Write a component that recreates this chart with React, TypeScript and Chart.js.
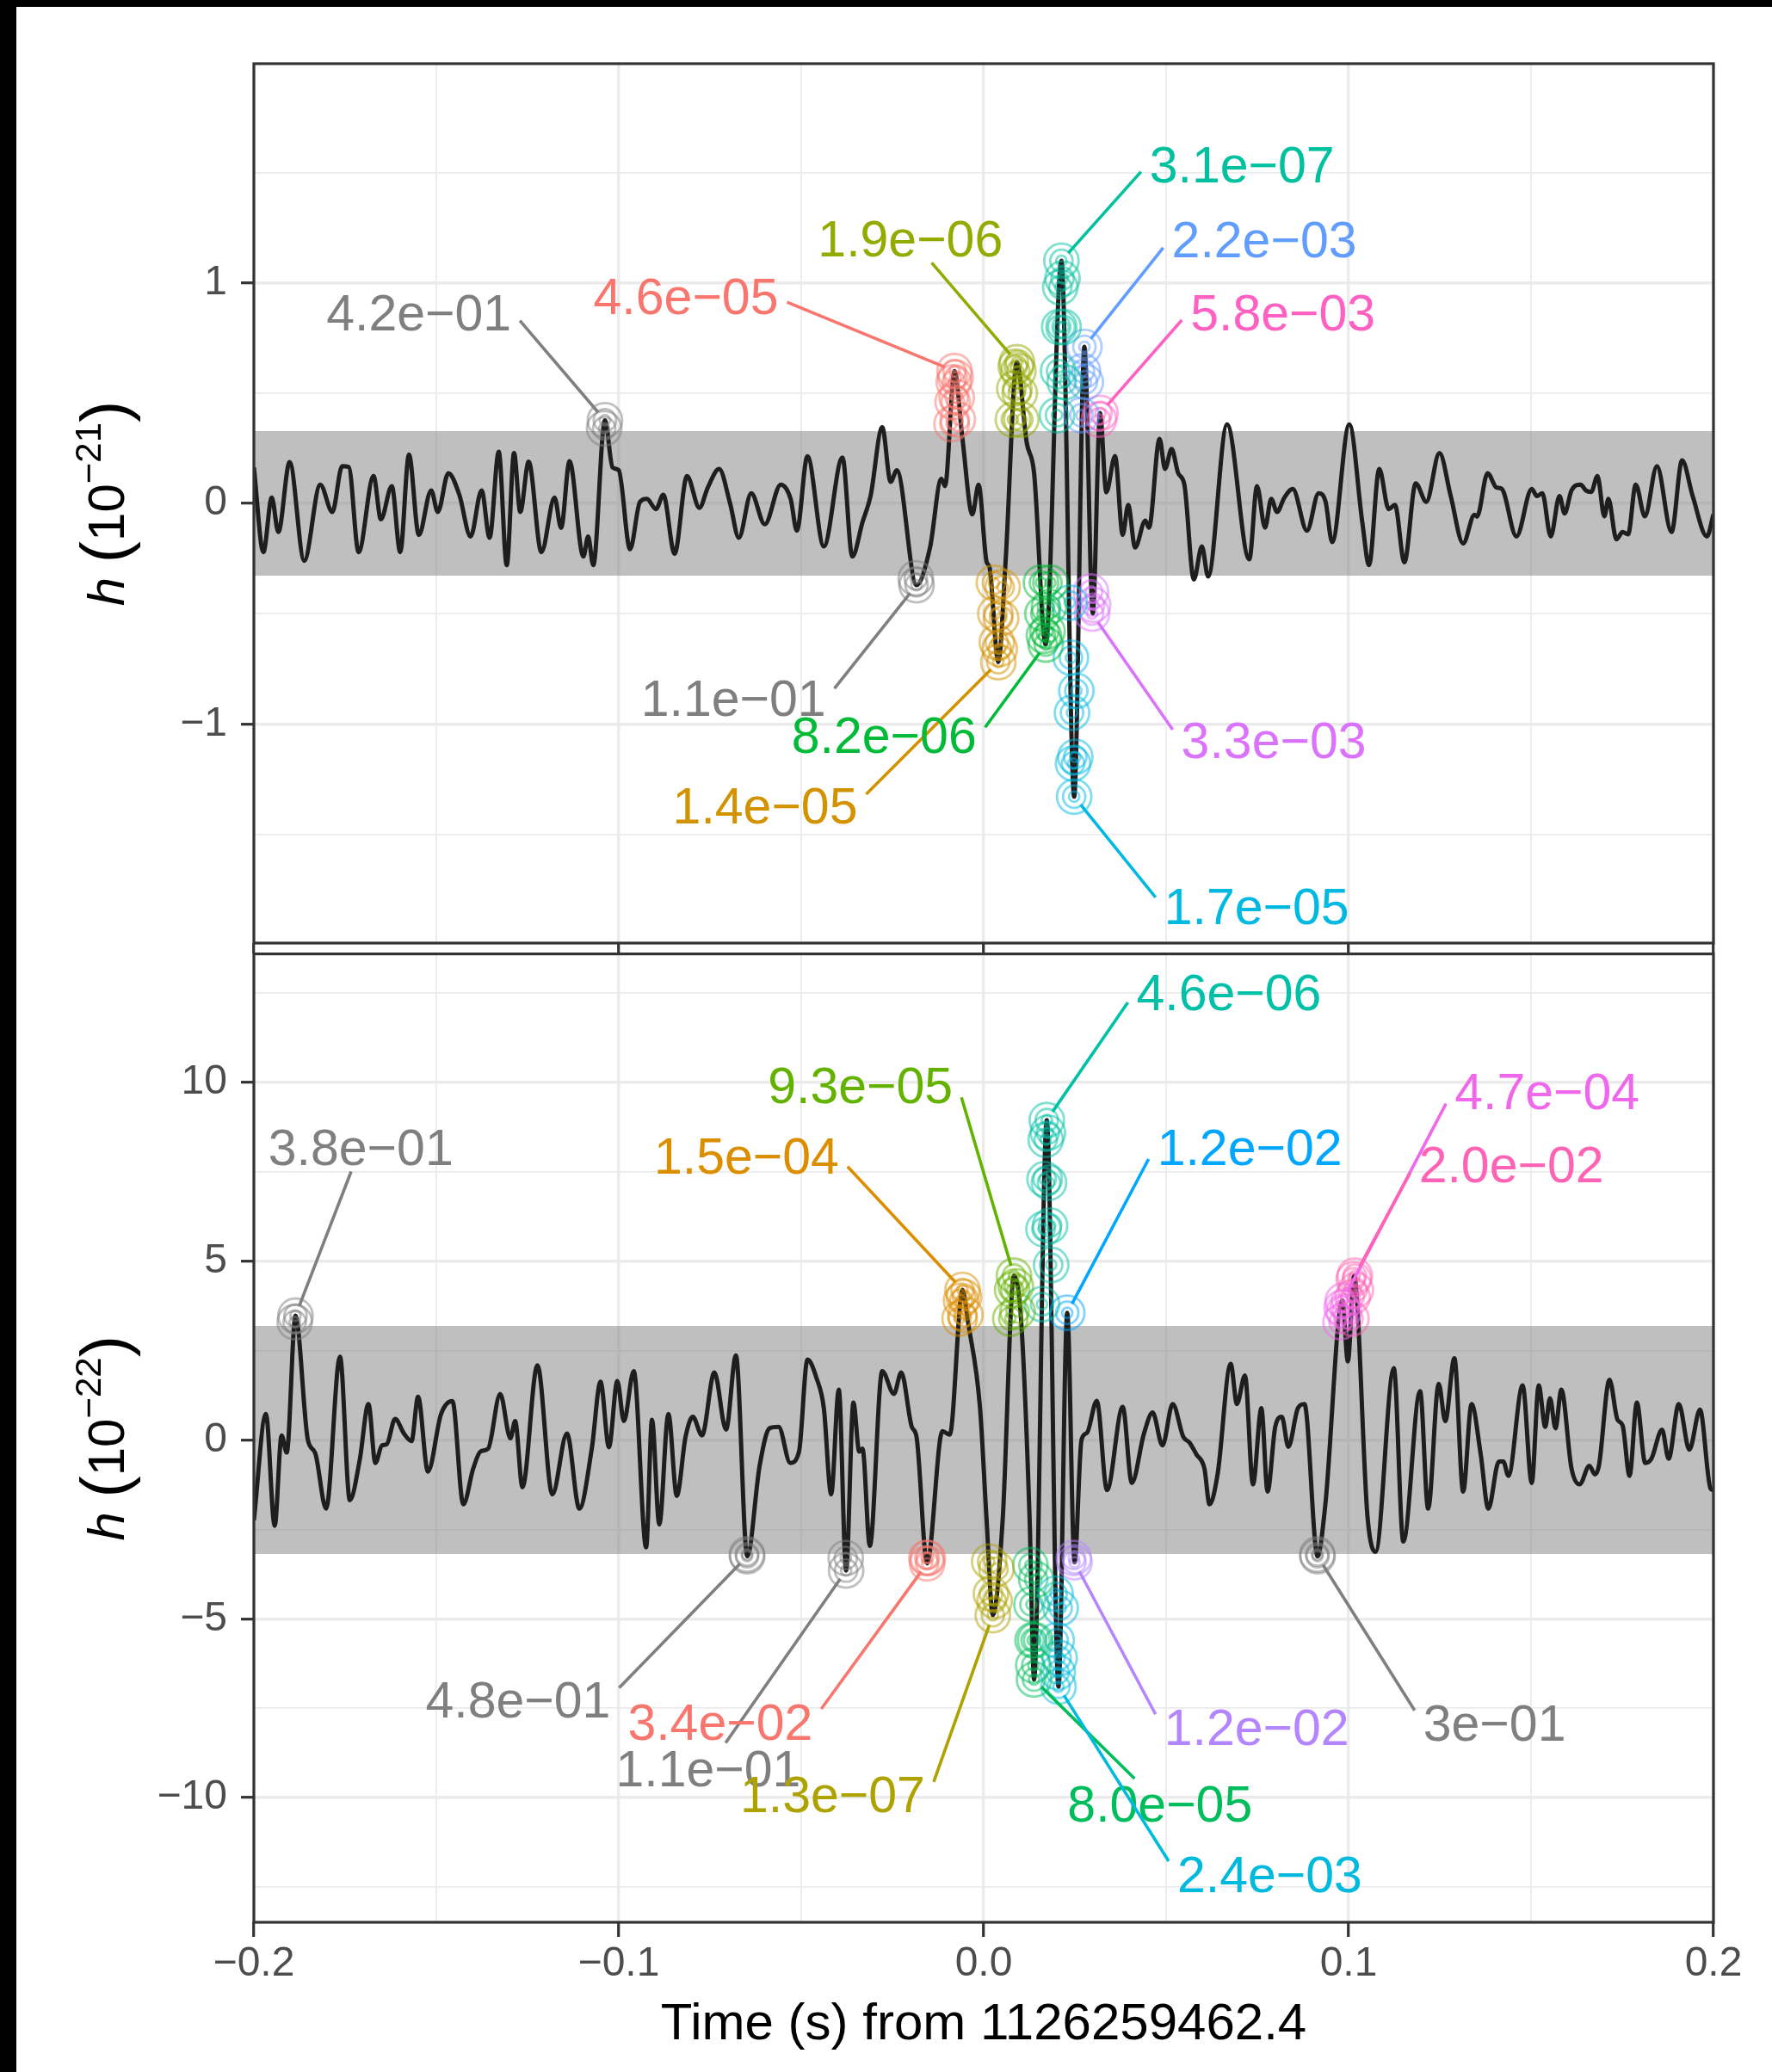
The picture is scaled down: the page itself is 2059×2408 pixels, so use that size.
import React, { useEffect, useRef } from "react";
import { Chart, registerables } from "chart.js";

Chart.register(...registerables);

const FONT = '"Liberation Sans", Arial, Helvetica, sans-serif';

// ---------------- axes ----------------
const xTickValues = [-0.2, -0.15, -0.1, -0.05, 0, 0.05, 0.1, 0.15, 0.2];
const xTickLabels = ["−0.2", "", "−0.1", "", "0.0", "", "0.1", "", "0.2"];
const topYTickValues = [-1.5, -1, -0.5, 0, 0.5, 1, 1.5];
const topYTickLabels = ["", "−1", "", "0", "", "1", ""];
const bottomYTickValues = [-12.5, -10, -7.5, -5, -2.5, 0, 2.5, 5, 7.5, 10, 12.5];
const bottomYTickLabels = ["", "−10", "", "−5", "", "0", "", "5", "", "10", ""];
const xAxisTitle = "Time (s) from 1126259462.4";

// ---------------- top panel (10^-21) ----------------
const topTime = [
  -0.2, -0.1974, -0.1951, -0.1933, -0.1902, -0.1862, -0.1818, -0.1785, -0.1758, -0.174,
  -0.1713, -0.1672, -0.1652, -0.1622, -0.1599, -0.1575, -0.1548, -0.1514, -0.1496, -0.1467,
  -0.1437, -0.1406, -0.1376, -0.1354, -0.1329, -0.1307, -0.1287, -0.127, -0.1247, -0.1212,
  -0.1176, -0.1158, -0.1135, -0.1097, -0.1084, -0.107, -0.1038, -0.1017, -0.1, -0.0969,
  -0.0942, -0.0923, -0.0898, -0.0878, -0.0847, -0.0813, -0.0779, -0.0756, -0.0725, -0.0695,
  -0.0671, -0.0637, -0.06, -0.0556, -0.0529, -0.0512, -0.0483, -0.0438, -0.0387, -0.036,
  -0.0332, -0.031, -0.0278, -0.0255, -0.0238, -0.0184, -0.0147, -0.0116, -0.0106, -0.008,
  -0.0058, -0.0031, -0.0014, 0.0008, 0.0016, 0.004, 0.006, 0.0091, 0.0118, 0.0138,
  0.017, 0.0213, 0.0248, 0.0276, 0.0299, 0.0319, 0.0336, 0.036, 0.0381, 0.0396,
  0.0415, 0.0443, 0.0453, 0.0482, 0.0497, 0.0515, 0.0533, 0.055, 0.0576, 0.0598,
  0.0615, 0.0667, 0.0728, 0.0749, 0.0771, 0.0788, 0.0804, 0.0824, 0.0847, 0.0886,
  0.0918, 0.0937, 0.0955, 0.1002, 0.1038, 0.1056, 0.1084, 0.111, 0.1127, 0.1153,
  0.1184, 0.1213, 0.1249, 0.128, 0.1314, 0.1345, 0.1352, 0.1381, 0.1405, 0.142,
  0.146, 0.1502, 0.1516, 0.1531, 0.1554, 0.1578, 0.1592, 0.1611, 0.1636, 0.165,
  0.1665, 0.1682, 0.1701, 0.1712, 0.1734, 0.1751, 0.1766, 0.1787, 0.1812, 0.1845,
  0.1885, 0.1914, 0.1943, 0.1982, 0.2,
];
const topStrain = [
  0.163, -0.221, 0.026, -0.13, 0.187, -0.26, 0.085, -0.039, 0.169, 0.165,
  -0.221, 0.124, -0.072, 0.078, -0.221, 0.221, -0.143, 0.059, -0.039, 0.137,
  0.039, -0.15, 0.059, -0.156, 0.234, -0.28, 0.228, -0.039, 0.189, -0.221,
  0.026, -0.111, 0.191, -0.241, -0.15, -0.28, 0.377, 0.163, 0.15, -0.208,
  0.007, 0.02, -0.026, 0.039, -0.228, 0.124, -0.02, 0.072, 0.156, 0.0,
  -0.156, 0.046, -0.095, 0.085, 0.02, -0.124, 0.214, -0.195, 0.208, -0.241,
  -0.085, 0.033, 0.345, 0.098, 0.15, -0.371, -0.2, 0.111, 0.078, 0.6,
  0.29, -0.05, 0.085, -0.265, -0.29, -0.72, -0.265, 0.64, 0.275, 0.14,
  -0.64, 1.1, -1.33, 0.71, -0.5, 0.41, 0.05, 0.215, -0.143, -0.007,
  -0.2, -0.078, -0.11, 0.293, 0.156, 0.247, 0.137, 0.085, -0.345, -0.195,
  -0.332, 0.358, -0.254, 0.078, -0.11, 0.02, -0.039, 0.026, 0.065, -0.124,
  0.046, 0.007, -0.176, 0.358, -0.091, -0.28, 0.156, -0.026, -0.007, -0.267,
  0.091, 0.007, 0.228, 0.033, -0.182, -0.052, -0.06, 0.137, 0.072, 0.065,
  -0.15, 0.065, 0.033, 0.046, -0.15, 0.033, -0.046, 0.059, 0.085, 0.059,
  0.052, 0.124, -0.059, 0.02, -0.163, -0.13, -0.14, 0.085, -0.059, 0.169,
  -0.13, 0.195, 0.033, -0.15, -0.05,
];
const topBand = 0.328;

const topMarkerLabels = ["4.2e−01", "4.6e−05", "1.1e−01", "1.4e−05", "1.9e−06", "8.2e−06", "3.1e−07", "1.7e−05", "2.2e−03", "3.3e−03", "5.8e−03"];
const topMarkerColors = ["#7F7F7F", "#F8766D", "#7F7F7F", "#D39200", "#93AA00", "#00BA38", "#00C19F", "#00B9E3", "#619CFF", "#DB72FB", "#FF61C3"];
const topMarkerTimes = [
  [-0.104, -0.1038],
  [-0.0088, -0.0085, -0.0082, -0.008, -0.0077, -0.0074, -0.0071],
  [-0.0186, -0.0184],
  [0.0028, 0.0032, 0.0036, 0.004, 0.0044, 0.0048, 0.0052],
  [0.008, 0.0084, 0.0088, 0.0091, 0.0095, 0.0099, 0.0103],
  [0.0157, 0.0161, 0.0165, 0.017, 0.0175, 0.0179, 0.0183],
  [0.0201, 0.0204, 0.0207, 0.021, 0.0213, 0.0216, 0.0219, 0.0222],
  [0.0236, 0.0239, 0.0242, 0.0245, 0.0248, 0.0251, 0.0254],
  [0.0268, 0.0272, 0.0276, 0.028],
  [0.0294, 0.0297, 0.03],
  [0.0316, 0.032],
];
const topMarkerStrains = [
  [0.34, 0.377],
  [0.36, 0.46, 0.55, 0.6, 0.57, 0.48, 0.38],
  [-0.34, -0.371],
  [-0.36, -0.5, -0.63, -0.72, -0.66, -0.52, -0.38],
  [0.38, 0.52, 0.62, 0.64, 0.6, 0.5, 0.38],
  [-0.36, -0.5, -0.6, -0.64, -0.58, -0.47, -0.36],
  [0.4, 0.6, 0.8, 0.98, 1.1, 1.02, 0.8, 0.55],
  [-0.45, -0.7, -0.95, -1.18, -1.33, -1.15, -0.85],
  [0.4, 0.6, 0.71, 0.55],
  [-0.4, -0.5, -0.46],
  [0.38, 0.41],
];
const topLabelTimes = [-0.1548, -0.0816, -0.0686, -0.0599, -0.0201, -0.0273, 0.0708, 0.0748, 0.0769, 0.0795, 0.082];
const topLabelStrains = [0.868, 0.94, -0.88, -1.371, 1.204, -1.048, 1.539, -1.826, 1.198, -1.072, 0.868];

// ---------------- bottom panel (10^-22) ----------------
const bottomTime = [
  -0.2, -0.1967, -0.1943, -0.1924, -0.191, -0.1886, -0.1852, -0.1832, -0.1802, -0.1764,
  -0.1737, -0.171, -0.1686, -0.1667, -0.1649, -0.1636, -0.1613, -0.1588, -0.1568, -0.155,
  -0.1523, -0.1487, -0.1456, -0.1426, -0.1399, -0.1379, -0.1358, -0.1325, -0.1297, -0.1284,
  -0.1264, -0.1223, -0.1182, -0.1142, -0.1108, -0.1074, -0.105, -0.1027, -0.1004, -0.0986,
  -0.0959, -0.0925, -0.0909, -0.0889, -0.0864, -0.0841, -0.0817, -0.0797, -0.0772, -0.0738,
  -0.0706, -0.0679, -0.0648, -0.0614, -0.0587, -0.0562, -0.053, -0.0506, -0.0483, -0.0458,
  -0.0438, -0.0418, -0.0397, -0.0377, -0.0357, -0.0341, -0.0332, -0.0312, -0.0278, -0.0246,
  -0.0226, -0.0197, -0.0184, -0.0155, -0.0113, -0.0093, -0.0058, -0.0043, -0.001, 0.0008,
  0.0025, 0.0052, 0.0083, 0.0103, 0.0126, 0.0138, 0.0173, 0.0205, 0.0229, 0.0249,
  0.0268, 0.0283, 0.031, 0.0338, 0.0381, 0.0406, 0.0439, 0.0463, 0.049, 0.0518,
  0.0547, 0.0564, 0.0583, 0.0605, 0.0619, 0.0641, 0.0677, 0.0694, 0.0716, 0.0738,
  0.0761, 0.0778, 0.0799, 0.0817, 0.0835, 0.0861, 0.0879, 0.0915, 0.0936, 0.0983,
  0.0998, 0.1015, 0.1052, 0.1074, 0.1124, 0.115, 0.1196, 0.1218, 0.1247, 0.1265,
  0.129, 0.1314, 0.1337, 0.1362, 0.1383, 0.1412, 0.1424, 0.1438, 0.1477, 0.1502,
  0.1521, 0.1539, 0.1552, 0.1567, 0.1583, 0.1611, 0.1633, 0.166, 0.1675, 0.1686,
  0.1715, 0.1737, 0.1751, 0.177, 0.179, 0.1813, 0.183, 0.1859, 0.1877, 0.1905,
  0.1934, 0.1963, 0.1992, 0.2,
];
const bottomStrain = [
  -2.24, 0.73, -2.4, 0.13, -0.35, 3.48, 0.0, -0.36, -1.92, 2.33,
  -1.68, -0.56, 1.01, -0.64, -0.15, -0.12, 0.59, 0.17, -0.03, 1.21,
  -0.88, 0.73, 1.09, -1.8, -0.8, -0.32, -0.24, 1.29, 0.05, 0.53,
  -1.32, 2.09, -1.52, 0.18, -1.92, -0.24, 1.63, -0.2, 1.65, 0.53,
  1.93, -3.0, 0.57, -2.36, 0.73, -1.56, 0.09, 0.65, 0.13, 1.89,
  0.29, 2.37, -3.25, -0.72, 0.33, 0.37, -0.64, -0.32, 2.25, 1.73,
  0.89, -1.52, 1.41, -3.65, 1.05, -0.32, -0.24, -2.96, 1.93, 1.29,
  1.89, 0.37, 0.09, -3.45, 0.25, 0.15, 4.2, 3.3, 0.9, -2.24,
  -4.9, -2.24, 4.6, 3.29, -2.24, -6.7, 8.95, -6.9, 3.56, -3.42,
  0.0, 0.2, 1.1, -1.4, 0.93, -1.2, 0.17, 0.77, -0.15, 1.01,
  0.09, -0.07, -0.4, -0.8, -1.8, -0.96, 2.13, 1.01, 1.81, -1.24,
  0.89, -1.44, 0.37, 0.65, -0.19, 0.89, 1.01, -3.25, -1.84, 3.9,
  2.2, 4.6, -2.16, -3.13, 2.01, -2.84, 1.37, -1.92, 1.57, 0.53,
  2.29, -1.44, 1.01, -0.39, -1.92, -0.6, -0.6, -1.0, 1.53, -1.2,
  1.53, 0.37, 1.17, 0.33, 1.41, -0.8, -1.24, -0.72, -0.96, -0.72,
  1.69, 0.57, 0.41, -1.0, 1.05, -0.64, -0.52, 0.29, -0.52, 1.01,
  -0.27, 0.85, -1.36, -1.4,
];
const bottomBand = 3.19;

const bottomMarkerLabels = ["3.8e−01", "4.8e−01", "1.1e−01", "3.4e−02", "1.5e−04", "1.3e−07", "9.3e−05", "8.0e−05", "4.6e−06", "2.4e−03", "1.2e−02", "1.2e−02", "3e−01", "4.7e−04", "2.0e−02"];
const bottomMarkerColors = ["#7F7F7F", "#7F7F7F", "#7F7F7F", "#F8766D", "#DB8E00", "#AEA200", "#64B200", "#00BD5C", "#00C1A7", "#00BADE", "#00A6FF", "#B385FF", "#7F7F7F", "#EF67EB", "#FF63B6"];
const bottomMarkerTimes = [
  [-0.1888, -0.1886],
  [-0.0649, -0.0648],
  [-0.0378, -0.0377],
  [-0.0157, -0.0155, -0.0153],
  [-0.0066, -0.0062, -0.0058, -0.0054, -0.005],
  [0.0015, 0.002, 0.0025, 0.003, 0.0035],
  [0.0073, 0.0078, 0.0083, 0.0088, 0.0093],
  [0.0128, 0.0131, 0.0134, 0.0136, 0.0138, 0.0141, 0.0144],
  [0.016, 0.0164, 0.0167, 0.017, 0.0173, 0.0176, 0.0179, 0.0182, 0.0185],
  [0.0197, 0.02, 0.0203, 0.0205, 0.0208, 0.0211],
  [0.0229],
  [0.0247, 0.0249],
  [0.0914, 0.0915],
  [0.0978, 0.0981, 0.0984, 0.0987],
  [0.1008, 0.1011, 0.1014, 0.1017, 0.102],
];
const bottomMarkerStrains = [
  [3.3, 3.48],
  [-3.2, -3.25],
  [-3.3, -3.65],
  [-3.3, -3.45, -3.3],
  [3.4, 3.9, 4.2, 4.0, 3.5],
  [-3.4, -4.3, -4.9, -4.5, -3.6],
  [3.4, 4.2, 4.6, 4.3, 3.6],
  [-3.5, -4.6, -5.6, -6.3, -6.7, -5.6, -3.9],
  [3.8, 5.9, 7.3, 8.4, 8.95, 8.6, 7.2, 6.0, 4.9],
  [-4.3, -5.6, -6.5, -6.9, -6.1, -4.7],
  [3.56],
  [-3.3, -3.42],
  [-3.2, -3.25],
  [3.3, 3.7, 3.9, 3.6],
  [3.4, 4.0, 4.5, 4.6, 4.2],
];
const bottomLabelTimes = [-0.1707, -0.1276, -0.0755, -0.0722, -0.065, -0.0414, -0.0338, 0.0483, 0.0672, 0.0784, 0.0729, 0.0748, 0.14, 0.1544, 0.1446];
const bottomLabelStrains = [8.21, -7.25, -9.17, -7.87, 7.95, -9.91, 9.94, -10.17, 12.53, -12.13, 8.21, -8.02, -7.91, 9.76, 7.73];

// ---------------- styling ----------------
const RING_RADII = [6, 13, 20];
const LABEL_SIZE = 59;
const TICK_SIZE = 48;
const TITLE_SIZE = 60;

function rgba(hex: string, a: number) {
  const n = parseInt(hex.slice(1), 16);
  return `rgba(${(n >> 16) & 255},${(n >> 8) & 255},${n & 255},${a})`;
}

function labelFor(values: number[], labels: string[], v: number) {
  const i = values.findIndex((u) => Math.abs(u - v) < 1e-9);
  return i >= 0 ? labels[i] : "";
}

function drawYTitle(ctx: CanvasRenderingContext2D, x: number, midY: number, exp: string) {
  const parts = [
    { t: "h", f: `italic ${TITLE_SIZE}px ${FONT}`, dy: 0 },
    { t: " ", f: `${TITLE_SIZE}px ${FONT}`, dy: 0 },
    { t: "(", f: `76px ${FONT}`, dy: 3 },
    { t: "10", f: `${TITLE_SIZE}px ${FONT}`, dy: 0 },
    { t: exp, f: `42px ${FONT}`, dy: -27 },
    { t: ")", f: `76px ${FONT}`, dy: 3 },
  ];
  ctx.save();
  ctx.translate(x, midY);
  ctx.rotate(-Math.PI / 2);
  ctx.fillStyle = "#000";
  ctx.textAlign = "left";
  ctx.textBaseline = "alphabetic";
  const widths = parts.map((p) => {
    ctx.font = p.f;
    return ctx.measureText(p.t).width;
  });
  const total = widths.reduce((a, b) => a + b, 0);
  let u = -total / 2;
  parts.forEach((p, i) => {
    ctx.font = p.f;
    ctx.fillText(p.t, u, 21 + p.dy);
    u += widths[i];
  });
  ctx.restore();
}

type Spec = {
  name: string;
  time: number[];
  strain: number[];
  band: number;
  yMin: number;
  yMax: number;
  yTicks: number[];
  yTickLabels: string[];
  yMajorStep: number;
  markerLabels: string[];
  markerColors: string[];
  markerTimes: number[][];
  markerStrains: number[][];
  labelTimes: number[];
  labelStrains: number[];
  padTop: number;
  xAxisHeight: number;
  xTickLength: number;
  showXLabels: boolean;
  exponent: string;
  xTitleY: number | null;
};

function overlay(spec: Spec) {
  return {
    id: "overlay_" + spec.name,
    afterDatasetsDraw(chart: any) {
      const { ctx } = chart;
      const xs = chart.scales.x;
      const ys = chart.scales.y;
      ctx.save();
      ctx.font = `${LABEL_SIZE}px ${FONT}`;
      spec.markerLabels.forEach((text, k) => {
        const color = spec.markerColors[k];
        const cx = xs.getPixelForValue(spec.labelTimes[k]);
        const cy = ys.getPixelForValue(spec.labelStrains[k]);
        const w = ctx.measureText(text).width;
        const hw0 = w / 2, hh0 = 22;
        const hw = hw0 + 10;
        const hh = 29;
        let px = 0, py = 0, best = Infinity;
        spec.markerTimes[k].forEach((t, j) => {
          const mx = xs.getPixelForValue(t);
          const my = ys.getPixelForValue(spec.markerStrains[k][j]);
          const d = Math.hypot(mx - cx, my - cy);
          if (d < best) { best = d; px = mx; py = my; }
        });
        const dx = px - cx, dy = py - cy;
        const ex = Math.abs(dx) - hw0, ey = Math.abs(dy) - hh0;
        let sx: number, sy: number;
        if (ex > 0 && ey < 3.0 * ex) {
          sx = cx + Math.sign(dx) * hw;
          sy = cy + Math.sign(dy) * Math.min(Math.abs(dy) * 0.08, hh * 0.5);
        } else {
          sy = cy + Math.sign(dy) * hh;
          sx = cx + Math.max(-hw, Math.min(hw, (dx * hh) / Math.max(Math.abs(dy), 1)));
        }
        const L = Math.hypot(px - sx, py - sy) || 1;
        const endX = px - ((px - sx) / L) * 12;
        const endY = py - ((py - sy) / L) * 12;
        ctx.strokeStyle = color;
        ctx.lineWidth = 3.6;
        ctx.lineCap = "butt";
        ctx.beginPath();
        ctx.moveTo(sx, sy);
        ctx.lineTo(endX, endY);
        ctx.stroke();
        ctx.fillStyle = color;
        ctx.textAlign = "center";
        ctx.textBaseline = "alphabetic";
        ctx.fillText(text, cx, cy + 0.358 * LABEL_SIZE);
      });
      ctx.restore();
    },
    afterDraw(chart: any) {
      const { ctx, chartArea: a } = chart;
      ctx.save();
      ctx.strokeStyle = "#333333";
      ctx.lineWidth = 3.2;
      ctx.strokeRect(a.left, a.top, a.right - a.left, a.bottom - a.top);
      ctx.restore();
      drawYTitle(ctx, 104, (a.top + a.bottom) / 2, spec.exponent);
      if (spec.xTitleY !== null) {
        ctx.save();
        ctx.font = `${TITLE_SIZE}px ${FONT}`;
        ctx.fillStyle = "#000";
        ctx.textAlign = "center";
        ctx.textBaseline = "alphabetic";
        ctx.fillText(xAxisTitle, (a.left + a.right) / 2, spec.xTitleY + 0.358 * TITLE_SIZE);
        ctx.restore();
      }
    },
  };
}

function buildConfig(spec: Spec): any {
  const signal = spec.time.map((t, i) => ({ x: t, y: spec.strain[i] }));
  const datasets: any[] = [
    {
      data: [{ x: -0.2, y: spec.band }, { x: 0.2, y: spec.band }],
      borderColor: "rgba(0,0,0,0)",
      borderWidth: 0,
      pointRadius: 0,
      fill: { value: -spec.band },
      backgroundColor: "rgba(127,127,127,0.5)",
      order: 3,
    },
    {
      data: signal,
      borderColor: "#1E1E1E",
      borderWidth: 5,
      pointRadius: 0,
      cubicInterpolationMode: "monotone",
      borderJoinStyle: "round",
      fill: false,
      order: 2,
    },
  ];
  spec.markerTimes.forEach((ts, k) => {
    const pts: any[] = [];
    const radii: number[] = [];
    ts.forEach((t, j) => {
      RING_RADII.forEach((r) => {
        pts.push({ x: t, y: spec.markerStrains[k][j] });
        radii.push(r);
      });
    });
    datasets.push({
      data: pts,
      showLine: false,
      pointRadius: radii,
      pointBorderWidth: 2.8,
      pointBorderColor: rgba(spec.markerColors[k], 0.5),
      pointBackgroundColor: "rgba(0,0,0,0)",
      fill: false,
      order: 1,
    });
  });

  const isMajorX = (v: number) => Math.abs(v * 10 - Math.round(v * 10)) < 1e-6;
  const isMajorY = (v: number) => Math.abs(v / spec.yMajorStep - Math.round(v / spec.yMajorStep)) < 1e-6;

  return {
    type: "line",
    data: { datasets },
    options: {
      responsive: false,
      animation: false,
      events: [],
      layout: { autoPadding: false, padding: { left: 76, right: 68, top: spec.padTop, bottom: 0 } },
      plugins: { legend: { display: false }, tooltip: { enabled: false }, title: { display: false } },
      scales: {
        x: {
          type: "linear",
          min: -0.2,
          max: 0.2,
          afterBuildTicks: (s: any) => { s.ticks = xTickValues.map((v) => ({ value: v })); },
          afterFit: (s: any) => { s.height = spec.xAxisHeight; },
          ticks: {
            display: spec.showXLabels,
            autoSkip: false,
            maxRotation: 0,
            minRotation: 0,
            padding: 3,
            color: "#4D4D4D",
            font: { family: FONT, size: TICK_SIZE },
            callback: (v: number) => labelFor(xTickValues, xTickLabels, v),
          },
          grid: {
            color: "#EBEBEB",
            lineWidth: (c: any) => (c.tick && isMajorX(c.tick.value) ? 3.4 : 1.8),
            drawTicks: true,
            tickLength: spec.xTickLength,
            tickWidth: 3.2,
            tickColor: (c: any) => (c.tick && isMajorX(c.tick.value) ? "#333333" : "rgba(0,0,0,0)"),
          },
          border: { display: false },
        },
        y: {
          type: "linear",
          min: spec.yMin,
          max: spec.yMax,
          afterBuildTicks: (s: any) => { s.ticks = spec.yTicks.map((v) => ({ value: v })); },
          afterFit: (s: any) => { s.width = 200; },
          ticks: {
            autoSkip: false,
            padding: 16,
            color: "#4D4D4D",
            font: { family: FONT, size: TICK_SIZE, lineHeight: 1 },
            callback: (v: number) => labelFor(spec.yTicks, spec.yTickLabels, v),
          },
          grid: {
            color: "#EBEBEB",
            lineWidth: (c: any) => (c.tick && isMajorY(c.tick.value) ? 3.4 : 1.8),
            drawTicks: true,
            tickLength: 15,
            tickWidth: 3.2,
            tickColor: (c: any) => (c.tick && isMajorY(c.tick.value) ? "#333333" : "rgba(0,0,0,0)"),
          },
          border: { display: false },
        },
      },
    },
    plugins: [overlay(spec)],
  };
}

const topSpec: Spec = {
  name: "top",
  time: topTime,
  strain: topStrain,
  band: topBand,
  yMin: -1.994,
  yMax: 1.994,
  yTicks: topYTickValues,
  yTickLabels: topYTickLabels,
  yMajorStep: 1,
  markerLabels: topMarkerLabels,
  markerColors: topMarkerColors,
  markerTimes: topMarkerTimes,
  markerStrains: topMarkerStrains,
  labelTimes: topLabelTimes,
  labelStrains: topLabelStrains,
  padTop: 66,
  xAxisHeight: 60,
  xTickLength: 12,
  showXLabels: false,
  exponent: "−21",
  xTitleY: null,
};

const bottomSpec: Spec = {
  name: "bottom",
  time: bottomTime,
  strain: bottomStrain,
  band: bottomBand,
  yMin: -13.49,
  yMax: 13.6,
  yTicks: bottomYTickValues,
  yTickLabels: bottomYTickLabels,
  yMajorStep: 5,
  markerLabels: bottomMarkerLabels,
  markerColors: bottomMarkerColors,
  markerTimes: bottomMarkerTimes,
  markerStrains: bottomMarkerStrains,
  labelTimes: bottomLabelTimes,
  labelStrains: bottomLabelStrains,
  padTop: 60.6,
  xAxisHeight: 174,
  xTickLength: 17,
  showXLabels: true,
  exponent: "−22",
  xTitleY: 1301,
};

export default function App() {
  const topRef = useRef<HTMLCanvasElement>(null);
  const botRef = useRef<HTMLCanvasElement>(null);
  useEffect(() => {
    document.body.style.margin = "0";
    document.body.style.background = "#000";
    const c1 = new Chart(topRef.current as HTMLCanvasElement, buildConfig(topSpec));
    const c2 = new Chart(botRef.current as HTMLCanvasElement, buildConfig(bottomSpec));
    return () => {
      c1.destroy();
      c2.destroy();
    };
  }, []);
  return (
    <div style={{ position: "absolute", left: 19, top: 8, width: 2040, height: 2400, background: "#fff", overflow: "hidden" }}>
      <canvas ref={topRef} width={2040} height={1148} style={{ position: "absolute", left: 0, top: 0, width: 2040, height: 1148 }} />
      <canvas ref={botRef} width={2040} height={1360} style={{ position: "absolute", left: 0, top: 1040, width: 2040, height: 1360 }} />
    </div>
  );
}
